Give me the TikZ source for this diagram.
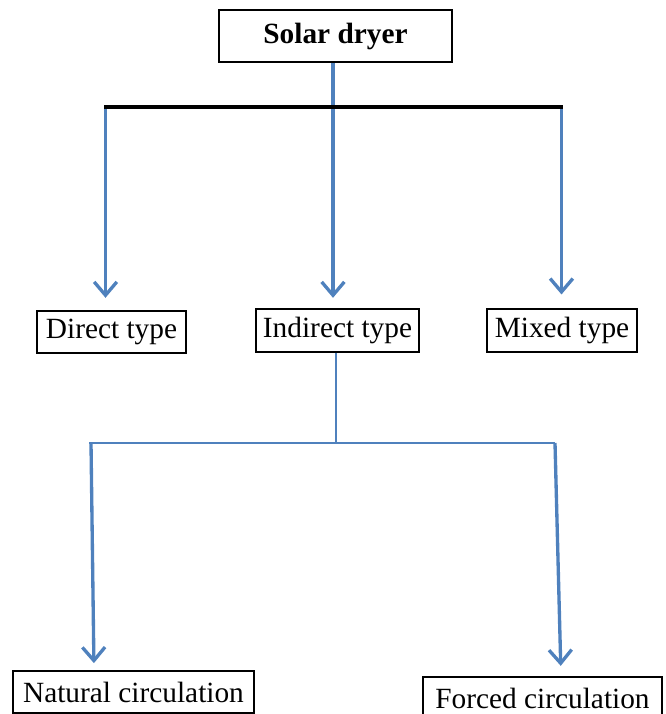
\documentclass[tikz,border=0pt]{standalone}
\usepackage{fontspec}
\setmainfont{Liberation Serif}
\usetikzlibrary{arrows.meta}
\definecolor{myblue}{RGB}{79,129,189}

\begin{document}
\begin{tikzpicture}[x=0.75pt,y=-0.75pt,
    box/.style={draw,line width=1.8pt,inner sep=0pt,font=\fontsize{22}{26}\selectfont},
    bluearrow/.style={myblue,line width=2.5pt,-{Straight Barb[length=10pt,width=17pt]}},
    thinblue/.style={myblue,line width=1.5pt}]
    \useasboundingbox (0,0) rectangle (665,714);

    % Solar dryer (top)
    \node[box,minimum width=174.75pt,minimum height=39pt] (dryer) at (335.5,36) {\textbf{Solar dryer}};

    % Types
    \node[box,minimum width=111.75pt,minimum height=31.5pt] (direct) at (111.5,332) {Direct type};
    \node[box,minimum width=122.25pt,minimum height=32.25pt] (indirect) at (337.5,330.5) {Indirect type};
    \node[box,minimum width=112.5pt,minimum height=32.25pt] (mixed) at (562,330.5) {Mixed type};

    % Circulation (below indirect)
    \node[box,minimum width=180.75pt,minimum height=31.5pt] (natural) at (133.5,692) {Natural circulation};
    \node[box,minimum width=179.25pt,minimum height=31.5pt] (forced) at (542.5,698) {Forced circulation};

    % Branch points
    \coordinate (top-l) at (105.5,107);
    \coordinate (top-m) at (333,107);
    \coordinate (top-r) at (561.5,107);
    \coordinate (mid-l) at (89,443);
    \coordinate (mid-m) at (336,443);
    \coordinate (mid-r) at (555,443);
    \coordinate (bot-l) at (91,443);

    % Arrows
    \draw[bluearrow,shorten >=9pt] (top-l) -- (direct.north -| top-l);
    \draw[bluearrow,shorten >=7.5pt] (dryer.south -| top-m) -- (indirect.north -| top-m);
    \draw[bluearrow,shorten >=10pt] (top-r) -- (mixed.north -| top-r);
    \draw[line width=2.4pt] ([xshift=-1pt]top-l) -- ([xshift=1pt]top-r);

    \draw[thinblue] (indirect.south -| mid-m) -- (mid-m);
    \draw[thinblue,line width=2pt] (mid-l) -- (mid-r);
    \draw[bluearrow,shorten >=5pt] (bot-l) -- ([xshift=2.25pt]natural.north -| bot-l);
    \draw[bluearrow,shorten >=7.5pt] (mid-r) -- ([xshift=4.5pt]forced.north -| mid-r);
\end{tikzpicture}
\end{document}
